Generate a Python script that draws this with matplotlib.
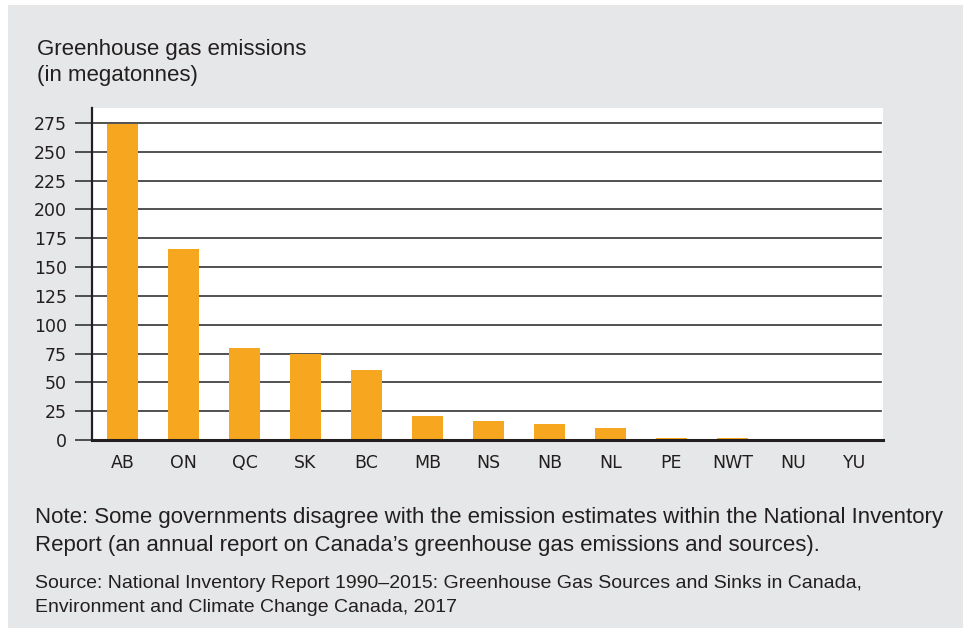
import matplotlib.pyplot as plt
from matplotlib.patches import Rectangle

# Greenhouse gas emissions by province/territory, 2015 (megatonnes)
provinces = ['AB', 'ON', 'QC', 'SK', 'BC', 'MB', 'NS', 'NB', 'NL', 'PE', 'NWT', 'NU', 'YU']
emissions = [274, 166, 80.1, 75, 60.9, 20.8, 16.2, 14.1, 10.3, 1.8, 1.6, 0.6, 0.3]
yticks = [0, 25, 50, 75, 100, 125, 150, 175, 200, 225, 250, 275]

bar_color = '#f6a61f'
panel_color = '#e6e7e8'
narrow = ['Liberation Sans Narrow', 'DejaVu Sans']
sans = ['Liberation Sans', 'DejaVu Sans']

W, H = 963, 628
fig = plt.figure(figsize=(W / 100, H / 100), dpi=100)
fig.patch.set_facecolor('white')

# gray background panel, kept behind the axes
fig.patches.append(Rectangle((8 / W, 0), 1 - 8 / W, 1 - 5 / H, transform=fig.transFigure,
                             facecolor=panel_color, edgecolor='none', zorder=-10))

ax = fig.add_axes([92 / W, 1 - 440 / H, (883 - 92) / W, (440 - 108) / H])
ax.set_facecolor('white')
ax.set_zorder(1)

x = range(len(provinces))
ax.bar(x, emissions, width=0.51, color=bar_color, zorder=3)

ax.set_xlim(-0.5, 12.47)
ax.set_ylim(0, 288)
ax.set_yticks(yticks)
ax.set_xticks(list(x))
ax.set_xticklabels(provinces)

for v in yticks[1:]:
    ax.axhline(v, xmax=0.997, color='#333333', lw=1.2, zorder=1)

for s in ['top', 'right']:
    ax.spines[s].set_visible(False)
ax.spines['left'].set_color('#231f20')
ax.spines['left'].set_linewidth(1.6)
ax.spines['bottom'].set_color('#231f20')
ax.spines['bottom'].set_linewidth(2.2)
ax.spines['bottom'].set_zorder(4)

ax.tick_params(axis='y', length=12, width=1.2, color='#333333', pad=6)
ax.tick_params(axis='x', length=0, pad=10)
for lab in ax.get_yticklabels() + ax.get_xticklabels():
    lab.set_family(narrow)
    lab.set_fontsize(12.5)
    lab.set_color('#231f20')

fig.text(37 / W, 1 - 49 / H, 'Greenhouse gas emissions', fontsize=16, family=sans,
         color='#231f20', va='center', ha='left')
fig.text(37 / W, 1 - 76 / H, '(in megatonnes)', fontsize=16, family=sans,
         color='#231f20', va='center', ha='left')

fig.text(35 / W, 1 - 518 / H,
         'Note: Some governments disagree with the emission estimates within the National Inventory',
         fontsize=16, family=sans, color='#231f20', va='center', ha='left')
fig.text(35 / W, 1 - 546 / H,
         'Report (an annual report on Canada\u2019s greenhouse gas emissions and sources).',
         fontsize=16, family=sans, color='#231f20', va='center', ha='left')
fig.text(35 / W, 1 - 584 / H,
         'Source: National Inventory Report 1990\u20132015: Greenhouse Gas Sources and Sinks in Canada,',
         fontsize=14, family=sans, color='#231f20', va='center', ha='left')
fig.text(35 / W, 1 - 607 / H,
         'Environment and Climate Change Canada, 2017',
         fontsize=14, family=sans, color='#231f20', va='center', ha='left')

fig.savefig('out.png', dpi=100, facecolor=fig.get_facecolor())
